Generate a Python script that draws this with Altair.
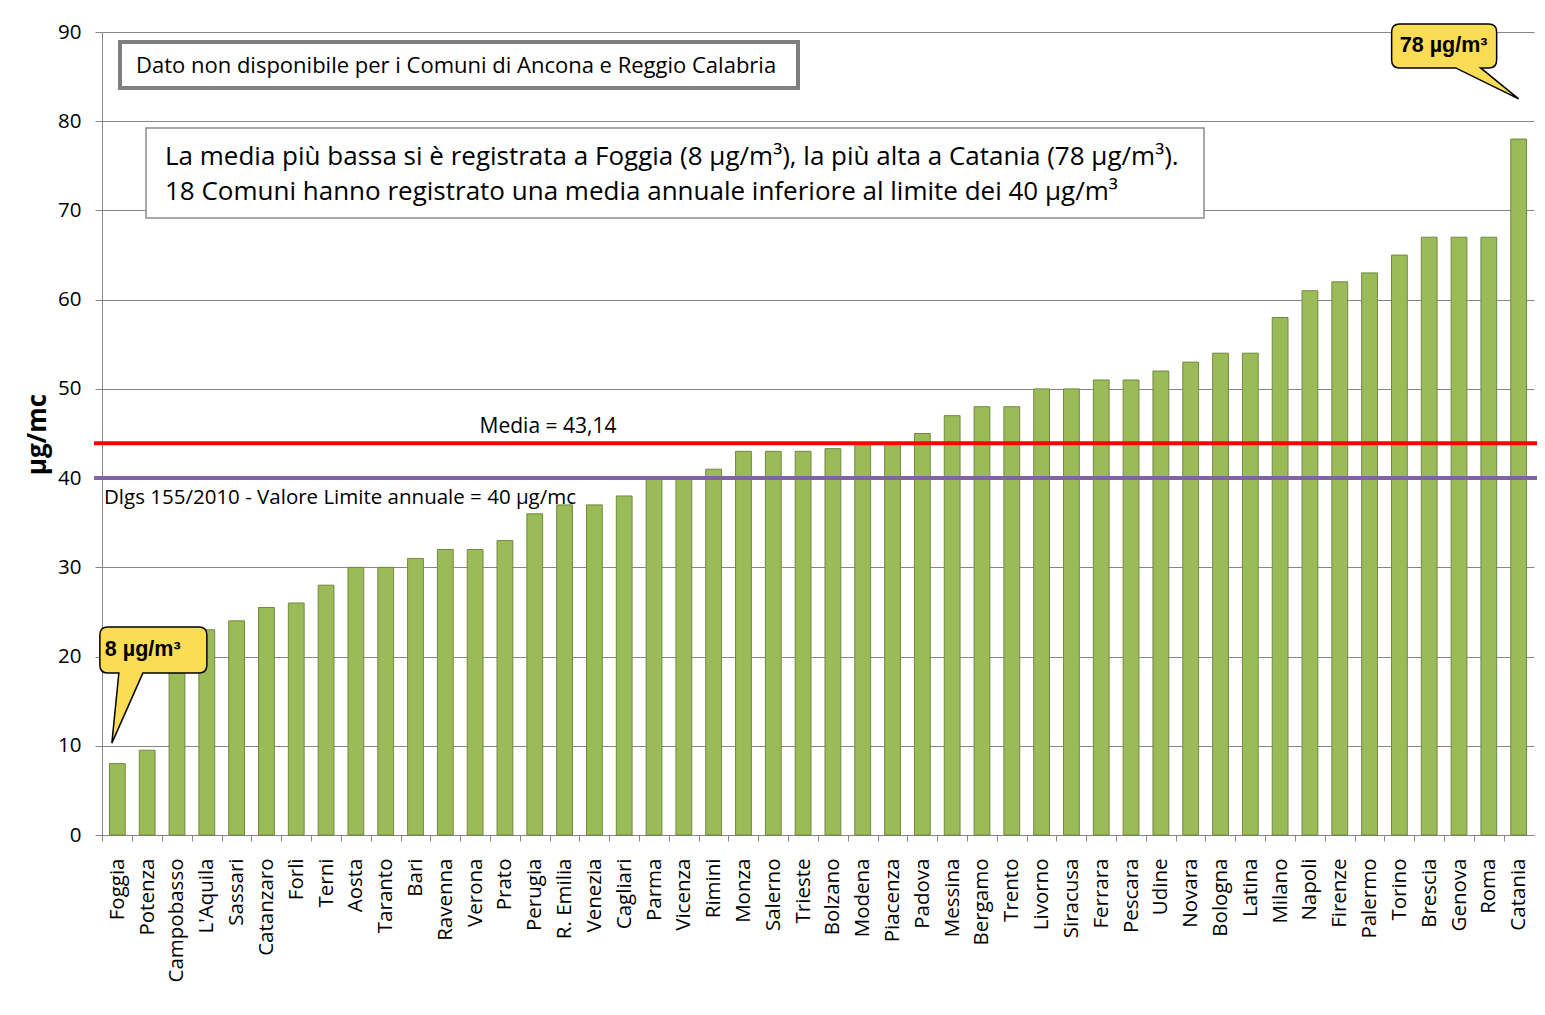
import altair as alt
import pandas as pd

# ---------------- data ----------------
comuni = ["Foggia", "Potenza", "Campobasso", "L'Aquila", "Sassari", "Catanzaro", "Forlì", "Terni",
          "Aosta", "Taranto", "Bari", "Ravenna", "Verona", "Prato", "Perugia", "R. Emilia",
          "Venezia", "Cagliari", "Parma", "Vicenza", "Rimini", "Monza", "Salerno", "Trieste",
          "Bolzano", "Modena", "Piacenza", "Padova", "Messina", "Bergamo", "Trento", "Livorno",
          "Siracusa", "Ferrara", "Pescara", "Udine", "Novara", "Bologna", "Latina", "Milano",
          "Napoli", "Firenze", "Palermo", "Torino", "Brescia", "Genova", "Roma", "Catania"]
valori = [8, 9.5, 20, 23, 24, 25.5, 26, 28,
          30, 30, 31, 32, 32, 33, 36, 37,
          37, 38, 40, 40, 41, 43, 43, 43,
          43.3, 44, 44, 45, 47, 48, 48, 50,
          50, 51, 51, 52, 53, 54, 54, 58,
          61, 62, 63, 65, 67, 67, 67, 78]
y_ticks = [0, 10, 20, 30, 40, 50, 60, 70, 80, 90]

media_line = 43.9
media_label = "Media = 43,14"
limite = 40
limite_label = "Dlgs 155/2010  - Valore Limite annuale = 40 µg/mc"
nota1 = "Dato non disponibile per i Comuni di Ancona e Reggio Calabria"
nota2 = ["La media più bassa si è registrata a Foggia (8 µg/m³), la più alta a Catania (78 µg/m³).",
         "18 Comuni hanno registrato una media annuale inferiore al limite dei 40 µg/m³"]
callout_min = {"comune": "Foggia", "valore": 10.3, "testo": "8 µg/m³"}
callout_max = {"comune": "Catania", "valore": 82.5, "testo": "78 µg/m³"}

df = pd.DataFrame({"comune": comuni, "valore": valori})

FONT = "Open Sans"
GRAY = "#868686"
W = 1432
H = 803

xenc = alt.X("comune:N", sort=comuni,
             scale=alt.Scale(paddingInner=0.47, paddingOuter=0.25),
             axis=alt.Axis(title=None, labelAngle=-90, labelFontSize=20.5, labelFont=FONT,
                           labelColor="black", tickSize=6, tickColor=GRAY, domainColor=GRAY,
                           tickOffset=-15, labelOffset=15, labelPadding=17,
                           labelOverlap=False, grid=False))
yenc = alt.Y("valore:Q", scale=alt.Scale(domain=[0, 90], nice=False),
             axis=alt.Axis(values=y_ticks, title="µg/mc", titleFontSize=26, titleFont=FONT,
                           titleFontWeight="bold", titleColor="black", titleX=-65, titleY=402,
                           titleAngle=270, titleAlign="center", titleBaseline="middle",
                           labelFontSize=20.5, labelFont=FONT, labelColor="black",
                           labelPadding=14, tickSize=7, tickColor=GRAY, domainColor=GRAY,
                           gridColor=GRAY, grid=True))
yplain = alt.Y("valore:Q")

bars = alt.Chart(df).mark_bar(fill="#9BBB59", stroke="#71893F", strokeWidth=1).encode(x=xenc, y=yenc)

rule_media = alt.Chart(pd.DataFrame({"valore": [media_line]})).mark_rule(
    color="#FF0000", strokeWidth=4).encode(y=yplain, x=alt.value(-8), x2=alt.value(W + 3))
rule_lim = alt.Chart(pd.DataFrame({"valore": [limite]})).mark_rule(
    color="#8064A2", strokeWidth=4).encode(y=yplain, x=alt.value(-8), x2=alt.value(W + 3))

txt_media = alt.Chart(pd.DataFrame({"valore": [media_line], "t": [media_label]})).mark_text(
    font=FONT, fontSize=21, color="black", align="center", baseline="middle", dy=-16
).encode(y=yplain, x=alt.value(446), text="t:N")
txt_lim = alt.Chart(pd.DataFrame({"valore": [limite], "t": [limite_label]})).mark_text(
    font=FONT, fontSize=20.5, color="black", align="left", baseline="middle", dy=20
).encode(y=yplain, x=alt.value(2), text="t:N")

box1 = alt.Chart(pd.DataFrame({"a": [0]})).mark_rect(
    fill="white", stroke="#7f7f7f", strokeWidth=4).encode(
    x=alt.value(18), x2=alt.value(696), y=alt.value(10), y2=alt.value(56))
txt1 = alt.Chart(pd.DataFrame({"t": [nota1]})).mark_text(
    font=FONT, fontSize=22, color="black", align="left", baseline="middle").encode(
    x=alt.value(34), y=alt.value(34), text="t:N")

box2 = alt.Chart(pd.DataFrame({"a": [0]})).mark_rect(
    fill="white", stroke="#8c8c8c", strokeWidth=1.5).encode(
    x=alt.value(44), x2=alt.value(1102), y=alt.value(96), y2=alt.value(186))
txt2a = alt.Chart(pd.DataFrame({"t": [nota2[0]]})).mark_text(
    font=FONT, fontSize=26, color="black", align="left", baseline="middle").encode(
    x=alt.value(63), y=alt.value(125), text="t:N")
txt2b = alt.Chart(pd.DataFrame({"t": [nota2[1]]})).mark_text(
    font=FONT, fontSize=26, color="black", align="left", baseline="middle").encode(
    x=alt.value(63), y=alt.value(160), text="t:N")


def bubble(x0, x1, y0, y1, tb0, tb1, tx, ty, r, R):
    def p(x, y):
        return f"{x / R:.4f},{y / R:.4f}"
    return (f"M{p(x0 + r, y0)} L{p(x1 - r, y0)} Q{p(x1, y0)} {p(x1, y0 + r)} "
            f"L{p(x1, y1 - r)} Q{p(x1, y1)} {p(x1 - r, y1)} L{p(tb1, y1)} L{p(tx, ty)} "
            f"L{p(tb0, y1)} L{p(x0 + r, y1)} Q{p(x0, y1)} {p(x0, y1 - r)} "
            f"L{p(x0, y0 + r)} Q{p(x0, y0)} {p(x0 + r, y0)} Z")


R_MAX = 130
R_MIN = 120
path_max = bubble(-127, -22, -75, -31, -63, -38, 0, 0, 8, R_MAX)
path_min = bubble(-17.5, 89.5, -116, -70, 1.5, 25.5, -5.5, 0, 8, R_MIN)

cmax_df = pd.DataFrame([callout_max])
cmin_df = pd.DataFrame([callout_min])

bub_max = alt.Chart(cmax_df).mark_point(
    shape=path_max, size=(2 * R_MAX) ** 2, filled=True, fill="#FBDD55", stroke="black",
    strokeWidth=1.5, opacity=1).encode(x=xenc, y=yplain)
bub_min = alt.Chart(cmin_df).mark_point(
    shape=path_min, size=(2 * R_MIN) ** 2, filled=True, fill="#FBDD55", stroke="black",
    strokeWidth=1.5, opacity=1).encode(x=xenc, y=yplain)
t_max = alt.Chart(cmax_df).mark_text(
    font="Liberation Sans", fontWeight="bold", fontSize=21.5, color="black", align="center",
    baseline="middle", dx=-75, dy=-53).encode(x=xenc, y=yplain, text="testo:N")
t_min = alt.Chart(cmin_df).mark_text(
    font="Liberation Sans", fontWeight="bold", fontSize=21.5, color="black", align="left",
    baseline="middle", dx=-12.5, dy=-93).encode(x=xenc, y=yplain, text="testo:N")

chart = alt.layer(
    bars, rule_media, rule_lim, txt_media, txt_lim, box1, txt1, box2, txt2a, txt2b,
    bub_max, bub_min, t_max, t_min
).properties(
    width=W, height=H,
    autosize=alt.AutoSizeParams(type="none"),
    padding={"left": 94, "top": 24, "right": 3, "bottom": 160},
    background="white",
).configure_view(stroke=None)

chart.save("out.html", embed_options={"renderer": "svg", "actions": False})
